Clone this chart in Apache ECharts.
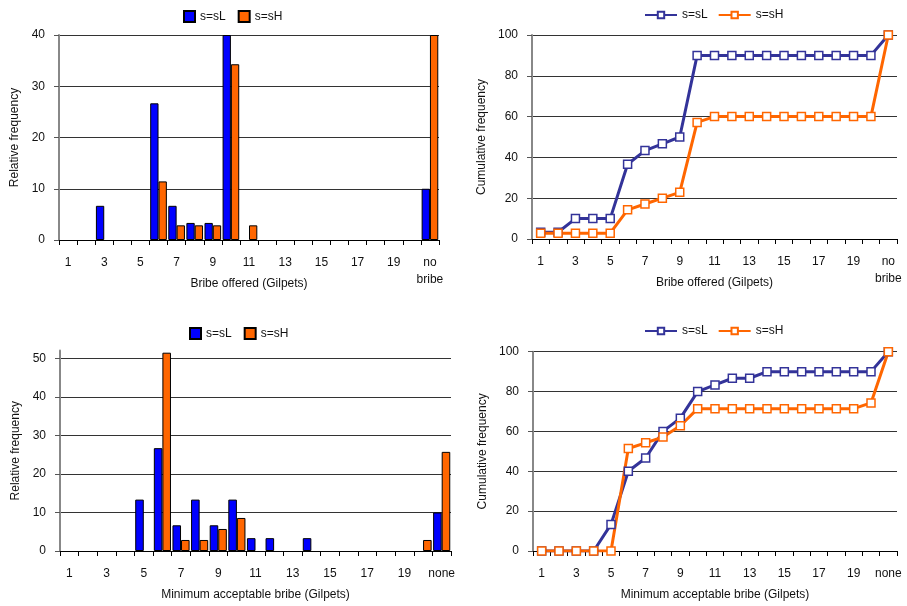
<!DOCTYPE html>
<html>
<head>
<meta charset="utf-8">
<script src="https://cdn.jsdelivr.net/npm/echarts@6/dist/echarts.min.js"></script>
<style>
body { margin: 0; background: #fff; }
#wrap { position: relative; width: 907px; height: 606px; }
.c { position: absolute; }
</style>
</head>
<body>
<div id="wrap">
	<div id="tl" class="c" style="left:0;top:0;width:453px;height:303px"></div>
	<div id="bl" class="c" style="left:0;top:303px;width:470px;height:303px"></div>
	<div id="tr" class="c" style="left:453px;top:0;width:454px;height:303px"></div>
	<div id="br" class="c" style="left:453px;top:303px;width:454px;height:303px"></div>
</div>
<script>
// categories
var bribeCats = ['1','2','3','4','5','6','7','8','9','10','11','12','13','14','15','16','17','18','19','20','no\nbribe'];
var minCats = ['1','2','3','4','5','6','7','8','9','10','11','12','13','14','15','16','17','18','19','20','none'];

// bribe offered - relative frequency
var offerL = ['-','-',6.67,'-','-',26.67,6.67,3.33,3.33,40,'-','-','-','-','-','-','-','-','-','-',10];
var offerH = ['-','-','-','-','-',11.43,2.86,2.86,2.86,34.29,2.86,'-','-','-','-','-','-','-','-','-',40];

// bribe offered - cumulative frequency
var offerCumL = [3.33,3.33,10,10,10,36.67,43.33,46.67,50,90,90,90,90,90,90,90,90,90,90,90,100];
var offerCumH = [2.86,2.86,2.86,2.86,2.86,14.29,17.14,20,22.86,57.14,60,60,60,60,60,60,60,60,60,60,100];

// minimum acceptable bribe - relative frequency
var minL = ['-','-','-','-',13.33,26.67,6.67,13.33,6.67,13.33,3.33,3.33,'-',3.33,'-','-','-','-','-','-',10];
var minH = ['-','-','-','-','-',51.43,2.86,2.86,5.71,8.57,'-','-','-','-','-','-','-','-','-',2.86,25.71];

// minimum acceptable bribe - cumulative frequency
var minCumL = [0,0,0,0,13.33,40,46.67,60,66.67,80,83.33,86.67,86.67,90,90,90,90,90,90,90,100];
var minCumH = [0,0,0,0,0,51.43,54.29,57.14,62.86,71.43,71.43,71.43,71.43,71.43,71.43,71.43,71.43,71.43,71.43,74.29,100];

var FONT = 'Liberation Sans, Arial, sans-serif';
var txt = { color: '#111', fontSize: 12, fontFamily: FONT };

function xAxisOf(cats, name) {
	return {
		type: 'category',
		data: cats,
		name: name,
		nameLocation: 'middle',
		nameGap: 38,
		nameMoveOverlap: false,
		nameTextStyle: txt,
		boundaryGap: true,
		axisLine: { lineStyle: { color: '#000', width: 1 } },
		axisTick: { show: true, interval: 0, length: 5, lineStyle: { color: '#000' } },
		axisLabel: Object.assign({ interval: 1, margin: 14.5, lineHeight: 17 }, txt),
		splitLine: { show: false }
	};
}

function yAxisOf(max, interval, name, nameGap, hideMax) {
	return {
		type: 'value',
		min: 0,
		max: max,
		interval: interval,
		name: name,
		nameLocation: 'middle',
		nameGap: nameGap,
		nameMoveOverlap: false,
		nameTextStyle: { color: '#111', fontSize: 12, fontFamily: FONT },
		axisLine: { show: true, lineStyle: { color: '#888', width: 2 } },
		axisTick: { show: true, length: 5, lineStyle: { color: '#555' } },
		axisLabel: Object.assign({ margin: 14, showMaxLabel: !hideMax }, txt),
		splitLine: { show: true, showMaxLine: !hideMax, lineStyle: { color: '#333', width: 1 } }
	};
}

function barChart(el, grid, legendPos, cats, xName, yMax, hideMax, dataL, dataH) {
	var chart = echarts.init(document.getElementById(el));
	chart.setOption({
		animation: false,
		textStyle: { fontFamily: FONT },
		legend: {
			left: legendPos[0],
			top: legendPos[1],
			padding: 0,
			icon: 'rect',
			itemWidth: 11,
			itemHeight: 11,
			itemGap: 12,
			textStyle: txt,
			data: ['s=sL', 's=sH']
		},
		grid: grid,
		xAxis: xAxisOf(cats, xName),
		yAxis: yAxisOf(yMax, 10, 'Relative frequency', 38, hideMax),
		series: [
			{
				name: 's=sL',
				type: 'bar',
				barGap: '0%',
				barCategoryGap: '8%',
				itemStyle: { color: '#0000FF', borderColor: '#000', borderWidth: 1 },
				data: dataL
			},
			{
				name: 's=sH',
				type: 'bar',
				barGap: '0%',
				barCategoryGap: '8%',
				itemStyle: { color: '#FF6600', borderColor: '#000', borderWidth: 1 },
				data: dataH
			}
		]
	});
}

function lineChart(el, grid, legendPos, cats, xName, dataL, dataH) {
	var chart = echarts.init(document.getElementById(el));
	chart.setOption({
		animation: false,
		textStyle: { fontFamily: FONT },
		legend: {
			left: legendPos[0],
			top: legendPos[1],
			padding: 0,
			itemWidth: 32,
			itemHeight: 8,
			itemGap: 10,
			textStyle: txt,
			data: ['s=sL', 's=sH']
		},
		grid: grid,
		xAxis: xAxisOf(cats, xName),
		yAxis: yAxisOf(100, 20, 'Cumulative frequency', 44, false),
		series: [
			{
				name: 's=sL',
				type: 'line',
				symbol: 'rect',
				symbolSize: 8,
				lineStyle: { color: '#333399', width: 3 },
				itemStyle: { color: '#fff', borderColor: '#333399', borderWidth: 1.5 },
				data: dataL
			},
			{
				name: 's=sH',
				type: 'line',
				symbol: 'rect',
				symbolSize: 8,
				lineStyle: { color: '#FF6600', width: 3 },
				itemStyle: { color: '#fff', borderColor: '#FF6600', borderWidth: 1.5 },
				data: dataH
			}
		]
	});
}

barChart('tl', { left: 59, right: 14, top: 35, bottom: 63 }, [183, 10],
	bribeCats, 'Bribe offered (Gilpets)', 40, false, offerL, offerH);
lineChart('tr', { left: 79, right: 10, top: 35, bottom: 64 }, [191, 9],
	bribeCats, 'Bribe offered (Gilpets)', offerCumL, offerCumH);
barChart('bl', { left: 60, right: 19, top: 47.5, bottom: 53.3 }, [189, 24],
	minCats, 'Minimum acceptable bribe (Gilpets)', 52, true, minL, minH);
lineChart('br', { left: 80, right: 10, top: 48.7, bottom: 53.3 }, [191, 22],
	minCats, 'Minimum acceptable bribe (Gilpets)', minCumL, minCumH);
</script>
</body>
</html>
